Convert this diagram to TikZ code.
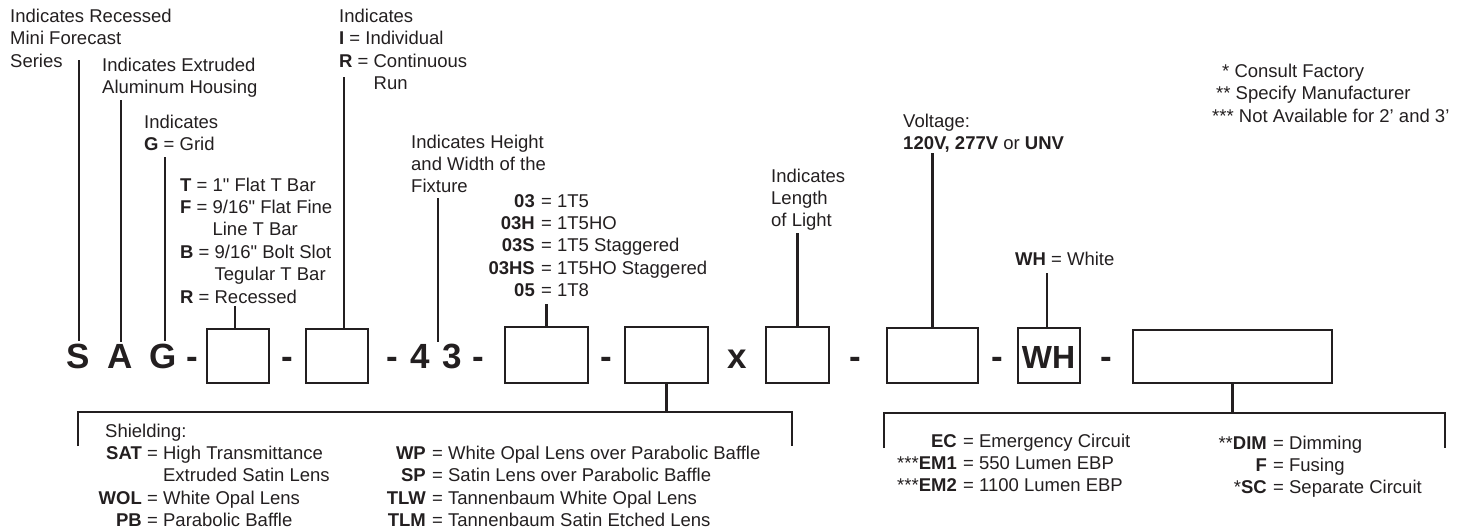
\documentclass[tikz,border=0pt]{standalone}
\usepackage{fontspec}
\setmainfont{Liberation Sans}
\definecolor{ink}{RGB}{35,31,32}
\newcommand{\mylines}[1]{\begin{tabular}[t]{@{}l@{}}#1\end{tabular}}
\newcommand{\myrlines}[1]{\begin{tabular}[t]{@{}r@{}}#1\end{tabular}}
\begin{document}
\begin{tikzpicture}[x=1pt,y=-1pt,
  lbl/.style={inner sep=0pt, anchor=base west, font=\fontsize{18.5}{22.4}\selectfont, text=ink},
  lblr/.style={lbl, anchor=base east},
  big/.style={inner sep=0pt, anchor=base, font=\fontsize{35}{40}\selectfont\bfseries, text=ink},
  slot/.style={draw=ink, line width=2.4pt, inner sep=0pt, outer sep=0pt},
  lead/.style={draw=ink, line width=2.2pt},
]
\useasboundingbox (0,0) rectangle (1463,531);

% ---- main code row ----
\node[big] (S) at (78.5,368) {S};
\node[big] (A) at (120,368) {A};
\node[big] (G) at (163.5,368) {G};
\node[big] (d1) at (192,368) {-};
\node[slot, minimum width=62pt, minimum height=54pt] (b1) at (238,356) {};
\node[big] (d2) at (287.5,368) {-};
\node[slot, minimum width=62pt, minimum height=54pt] (b2) at (337,356) {};
\node[big] (d3) at (392.5,368) {-};
\node[big] (n4) at (420,368) {4};
\node[big] (n3) at (452,368) {3};
\node[big] (d4) at (478,368) {-};
\node[slot, minimum width=83pt, minimum height=56pt] (b3) at (546.5,355) {};
\node[big] (d5) at (606.5,368) {-};
\node[slot, minimum width=83pt, minimum height=56pt] (b4) at (666.5,355) {};
\node[big] (xx) at (737,368) {x};
\node[slot, minimum width=63pt, minimum height=56pt] (b5) at (797.5,355) {};
\node[big] (d6) at (855,368) {-};
\node[slot, minimum width=91pt, minimum height=55pt] (b6) at (932.5,355.5) {};
\node[big] (d7) at (997,368) {-};
\node[slot, minimum width=62pt, minimum height=55pt] (bwh) at (1049,355.5) {};
\node[big, font=\fontsize{32}{36}\selectfont\bfseries] (wh) at (1048.5,368) {WH};
\node[big] (d8) at (1106,368) {-};
\node[slot, minimum width=199pt, minimum height=53pt] (b8) at (1232.5,356.5) {};

% ---- upper labels ----
\node[lbl] (tS) at (10,22.5) {\mylines{Indicates Recessed\\Mini Forecast\\Series}};
\node[lbl] (tA) at (102,71.5) {\mylines{Indicates Extruded\\Aluminum Housing}};
\node[lbl] (tG) at (144,128) {\mylines{Indicates\\\textbf{G} = Grid}};
\node[lbl] (t1) at (180,191) {\mylines{\textbf{T} = 1\textquotedbl{} Flat T Bar\\\textbf{F} = 9/16\textquotedbl{} Flat Fine\\\phantom{\textbf{F} = }Line T Bar\\\textbf{B} = 9/16\textquotedbl{} Bolt Slot\\\phantom{\textbf{B} = }Tegular T Bar\\\textbf{R} = Recessed}};
\node[lbl] (t2) at (339,22.5) {\mylines{Indicates\\\textbf{I} = Individual\\\textbf{R} = Continuous\\\phantom{\textbf{R} = }Run}};
\node[lbl] (t43) at (411,148) {\mylines{Indicates Height\\and Width of the\\Fixture}};
\node[lblr] (t3c) at (535,207) {\myrlines{\textbf{03}\\\textbf{03H}\\\textbf{03S}\\\textbf{03HS}\\\textbf{05}}};
\node[lbl] (t3v) at (541,207) {\mylines{= 1T5\\= 1T5HO\\= 1T5 Staggered\\= 1T5HO Staggered\\= 1T8}};
\node[lbl] (t5) at (771,182) {\mylines{Indicates\\Length\\of Light}};
\node[lbl] (t6) at (903,127) {\mylines{Voltage:\\\textbf{120V, 277V} or \textbf{UNV}}};
\node[lbl] (twh) at (1015,265) {\textbf{WH} = White};
\node[lbl] (f1) at (1222,77) {* Consult Factory};
\node[lbl] (f2) at (1216,99) {** Specify Manufacturer};
\node[lbl] (f3) at (1212,122) {*** Not Available for 2’ and 3’};

% ---- leaders to the upper labels ----
\coordinate (cS) at (79,60);
\coordinate (cA) at (121,100);
\coordinate (cG) at (165,157);
\coordinate (c1) at (235,306);
\coordinate (c2) at (344,77);
\coordinate (c43) at (438,198);
\coordinate (c3) at (546.5,304);
\coordinate (c5) at (797.5,233);
\coordinate (c6) at (932.5,153);
\coordinate (cwh) at (1047,273);
\draw[lead] (cS) -- ([yshift=2pt]cS |- S.north);
\draw[lead] (cA) -- ([yshift=2pt]cA |- A.north);
\draw[lead] (cG) -- ([yshift=2pt]cG |- G.north);
\draw[lead] (c1) -- (c1 |- b1.north);
\draw[lead] (c2) -- (c2 |- b2.north);
\draw[lead] (c43) -- ([yshift=2pt]c43 |- n4.north);
\draw[lead] (c3) -- (b3.north);
\draw[lead] (c5) -- (b5.north);
\draw[lead] (c6) -- (b6.north);
\draw[lead] (cwh) -- (cwh |- bwh.north);

% ---- lower left bracket: shielding ----
\coordinate (L1) at (78,446);
\coordinate (L2) at (78,412);
\coordinate (L3) at (792,412);
\coordinate (L4) at (792,446);
\draw[lead] (L1) -- (L2) -- (L3) -- (L4);
\draw[lead] (b4.south) -- (b4.south |- L2);
\node[lbl] (sh) at (105,437) {Shielding:};
\node[lblr] (s1c) at (142,459.3) {\myrlines{\textbf{SAT}\\\relax\\\relax\textbf{WOL}\\\relax\textbf{PB}}};
\node[lbl] (s1v) at (147,459.3) {\mylines{= High Transmittance\\\phantom{= }Extruded Satin Lens\\= White Opal Lens\\= Parabolic Baffle}};
\node[lblr] (s2c) at (426,459.3) {\myrlines{\textbf{WP}\\\textbf{SP}\hspace{5pt}\\\textbf{TLW}\\\textbf{TLM}}};
\node[lbl] (s2v) at (432,459.3) {\mylines{= White Opal Lens over Parabolic Baffle\\= Satin Lens over Parabolic Baffle\\= Tannenbaum White Opal Lens\\= Tannenbaum Satin Etched Lens}};

% ---- lower right bracket: options ----
\coordinate (R1) at (884,448);
\coordinate (R2) at (884,413);
\coordinate (R3) at (1445,413);
\coordinate (R4) at (1445,448);
\draw[lead] (R1) -- (R2) -- (R3) -- (R4);
\draw[lead] (b8.south) -- (b8.south |- R2);
\node[lblr] (o1c) at (957,447) {\myrlines{\textbf{EC}\\\relax ***\textbf{EM1}\\\relax ***\textbf{EM2}}};
\node[lbl] (o1v) at (963,447) {\mylines{= Emergency Circuit\\= 550 Lumen EBP\\= 1100 Lumen EBP}};
\node[lblr] (o2c) at (1267,449) {\myrlines{**\textbf{DIM}\\\relax\textbf{F}\\\relax *\textbf{SC}}};
\node[lbl] (o2v) at (1273,449) {\mylines{= Dimming\\= Fusing\\= Separate Circuit}};
\end{tikzpicture}
\end{document}
